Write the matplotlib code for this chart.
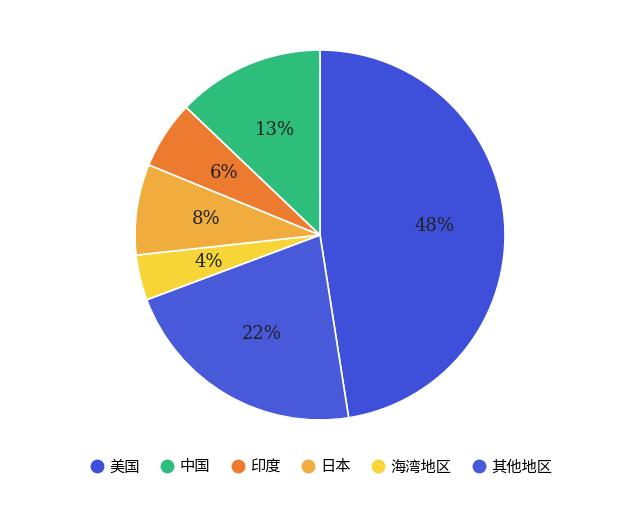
import numpy as np
import matplotlib.pyplot as plt
from matplotlib.lines import Line2D

plt.rcParams['font.family'] = ['Noto Sans CJK SC', 'DejaVu Sans']

regions = ['美国', '其他地区', '海湾地区', '日本', '印度', '中国']
shares = [48, 22, 4, 8, 6, 13]
colors = ['#3E50D9', '#4859DA', '#F7D536', '#F0AD3E', '#EC7A2F', '#2EBE7B']
legend_order = ['美国', '中国', '印度', '日本', '海湾地区', '其他地区']

fig = plt.figure(figsize=(6.4, 5.12), dpi=100)
ax = fig.add_axes([0.5 - 185/640, 1 - (235 + 185)/512, 370/640, 370/512])
wedges, texts = ax.pie(shares, colors=colors, startangle=90, counterclock=False,
                       wedgeprops=dict(edgecolor='white', linewidth=1.2))
for w, v in zip(wedges, shares):
    ang = np.deg2rad((w.theta1 + w.theta2) / 2)
    ax.text(0.62*np.cos(ang), 0.62*np.sin(ang), f'{v}%', ha='center', va='center',
            fontsize=13, family='DejaVu Serif', color='#222222')
ax.set_xlim(-1, 1)
ax.set_ylim(-1, 1)
ax.set_aspect('equal')

handles = [Line2D([], [], marker='o', linestyle='', markersize=10,
                  markerfacecolor=colors[regions.index(r)], markeredgecolor='none')
           for r in legend_order]
fig.legend(handles, legend_order, loc='center', bbox_to_anchor=(0.5, 1 - 467/512),
           ncol=6, frameon=False, fontsize=11, handletextpad=0.2, columnspacing=1.2,
           handlelength=1.2)
fig.savefig('out.png', dpi=100)
